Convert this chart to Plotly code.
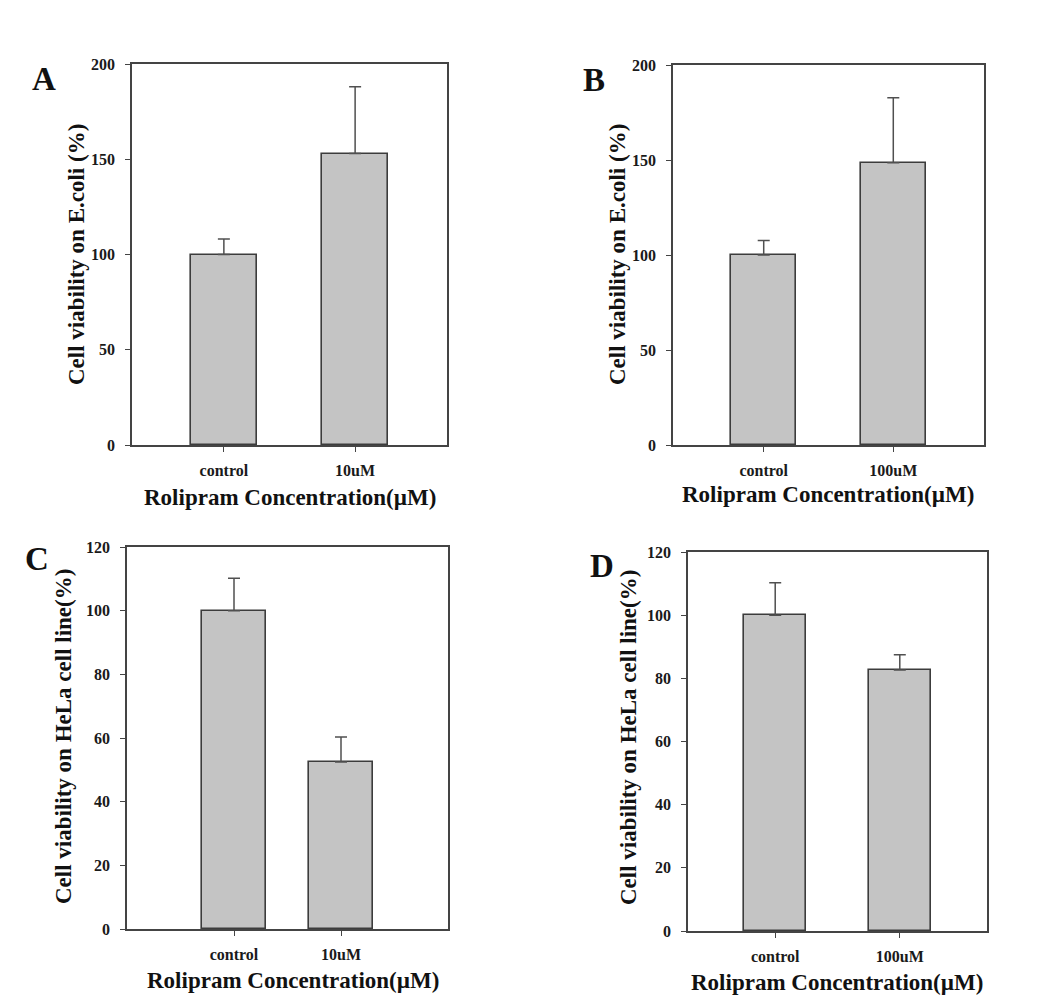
import plotly.graph_objects as go

# page body has an 8px margin; keep the figure inside the 1044x1003 window
OFF = 8
W, H = 1044 - 2 * OFF, 1003 - 2 * OFF

# ---- data ----
cats_A = ["control", "10uM"]
vals_A = [100, 153]
err_A = [8.2, 35]

cats_B = ["control", "100uM"]
vals_B = [100, 148.6]
err_B = [7.6, 34.2]

cats_C = ["control", "10uM"]
vals_C = [100, 52.5]
err_C = [10.2, 7.8]

cats_D = ["control", "100uM"]
vals_D = [100, 82.6]
err_D = [10.3, 4.9]

ytitle_ecoli = "Cell viability on E.coli (%)"
ytitle_hela = "Cell viability on HeLa cell line(%)"
xtitle = "Rolipram Concentration(\u00b5M)"

FONT = "Liberation Serif"

def px_x(p):
    return (p - OFF) / W

def px_y(p):
    return 1 - (p - OFF) / H

panels = [
    dict(c=cats_A, v=vals_A, e=err_A, xd=(132, 447), yd=(64, 445), yr=200, dt=50, xr=(-0.7, 1.7), bw=0.5,
         letter="A", lp=(44, 79), yt=ytitle_ecoli, ytp=(77, 255), xtp=(290, 497)),
    dict(c=cats_B, v=vals_B, e=err_B, xd=(673, 984), yd=(65, 445), yr=200, dt=50, xr=(-0.7, 1.7), bw=0.5,
         letter="B", lp=(594, 80), yt=ytitle_ecoli, ytp=(618, 255), xtp=(828, 495)),
    dict(c=cats_C, v=vals_C, e=err_C, xd=(127, 448), yd=(547, 929), yr=120, dt=20, xr=(-1.0, 2.0), bw=0.6,
         letter="C", lp=(37, 559), yt=ytitle_hela, ytp=(63, 737), xtp=(293, 980)),
    dict(c=cats_D, v=vals_D, e=err_D, xd=(688, 987), yd=(552, 931), yr=120, dt=20, xr=(-0.7, 1.7), bw=0.5,
         letter="D", lp=(602, 566), yt=ytitle_hela, ytp=(628, 738), xtp=(837, 982)),
]

fig = go.Figure()
annotations = []
for i, p in enumerate(panels):
    n = "" if i == 0 else str(i + 1)
    fig.add_trace(go.Bar(
        x=p["c"], y=p["v"], width=p["bw"],
        marker=dict(color="#c4c4c4", line=dict(color="#3c3c3c", width=1.6)),
        error_y=dict(type="data", array=p["e"], arrayminus=[0] * len(p["e"]), symmetric=False,
                     color="#505050", thickness=1.5, width=6),
        xaxis="x" + n, yaxis="y" + n, showlegend=False,
    ))
    axis_common = dict(showline=True, linecolor="#444444", linewidth=1.5, mirror=True,
                       ticks="outside", ticklen=5, tickwidth=1.2, tickcolor="#444444",
                       showgrid=False, zeroline=False,
                       tickfont=dict(family=FONT, size=16, color="#1a1a1a", weight="bold"))
    fig.update_layout(**{
        "xaxis" + n: dict(domain=[px_x(p["xd"][0]), px_x(p["xd"][1])], anchor="y" + n,
                          type="category", range=list(p["xr"]), ticklabelstandoff=5, **axis_common),
        "yaxis" + n: dict(domain=[px_y(p["yd"][1]), px_y(p["yd"][0])], anchor="x" + n,
                          range=[0, p["yr"]], dtick=p["dt"], ticklabelstandoff=7, **axis_common),
    })
    annotations.append(dict(text=p["letter"], x=px_x(p["lp"][0]), y=px_y(p["lp"][1]),
                            xref="paper", yref="paper", showarrow=False, xanchor="center", yanchor="middle",
                            font=dict(family=FONT, size=33, color="#111111", weight="bold")))
    annotations.append(dict(text=p["yt"], x=px_x(p["ytp"][0]), y=px_y(p["ytp"][1]), textangle=-90,
                            xref="paper", yref="paper", showarrow=False, xanchor="center", yanchor="middle",
                            font=dict(family=FONT, size=23, color="#111111", weight="bold")))
    annotations.append(dict(text=xtitle, x=px_x(p["xtp"][0]), y=px_y(p["xtp"][1]),
                            xref="paper", yref="paper", showarrow=False, xanchor="center", yanchor="middle",
                            font=dict(family=FONT, size=23, color="#111111", weight="bold")))

fig.update_layout(width=W, height=H, margin=dict(l=0, r=0, t=0, b=0, autoexpand=False),
                  paper_bgcolor="white", plot_bgcolor="white",
                  annotations=annotations, bargap=0)

fig.write_html("out.html")
